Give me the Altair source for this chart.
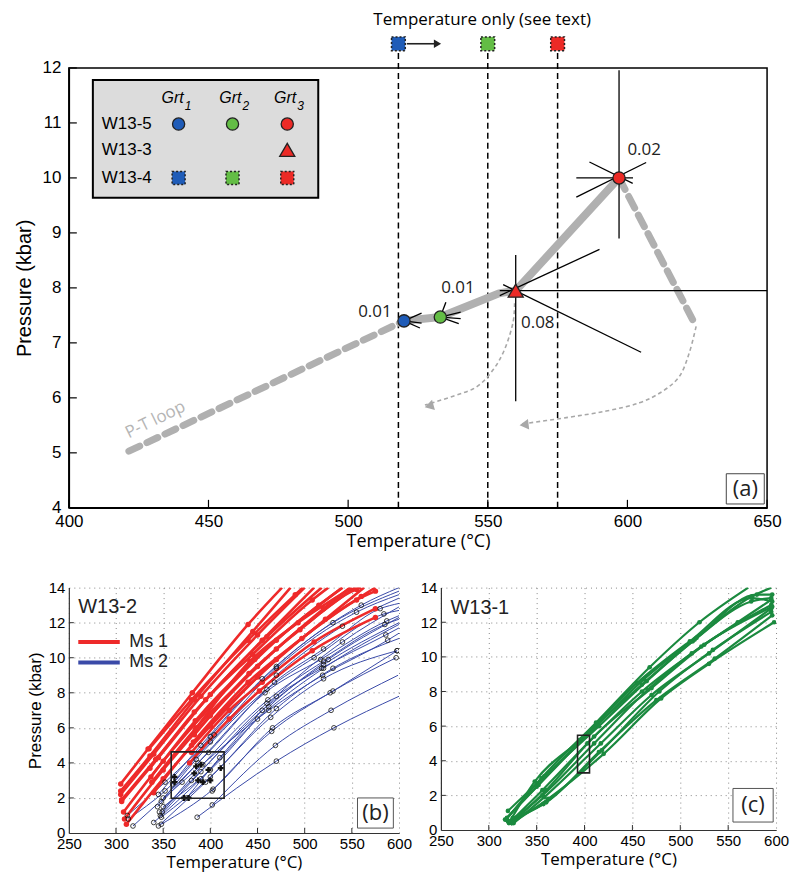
import altair as alt
import pandas as pd

FONT = "Liberation Sans"
FONT2 = "Open Sans"

# ======================= Panel (a) data =======================
a_x_ticks = [400, 450, 500, 550, 600, 650]
a_y_ticks = [4, 5, 6, 7, 8, 9, 10, 11, 12]

pt_T = [520, 533, 560, 597]
pt_P = [7.40, 7.47, 7.95, 10.0]
pt_shape = ["circle", "circle", "triangle-up", "circle"]
pt_color = ["#1f5cb8", "#63bd45", "#ec2a26", "#ec2a26"]
pt_size = [150, 150, 230, 150]

# error "star" segments around the points
err_T1 = [560, 554.3, 554.3, 555.5, 597, 581.7, 581.7, 586.4, 520, 520, 520, 533, 533, 533, 533]
err_P1 = [8.6, 7.95, 7.86, 8.06, 11.96, 10.0, 9.65, 10.29, 7.40, 7.40, 7.40, 7.47, 7.47, 7.47, 7.47]
err_T2 = [560, 650, 590, 604.9, 597, 602, 606.7, 601.9, 526.3, 526.3, 525.7, 535, 540.3, 540.3, 539.6]
err_P2 = [5.94, 7.95, 8.7, 6.83, 8.9, 10.0, 10.28, 9.9, 7.54, 7.36, 7.27, 7.74, 7.56, 7.44, 7.35]

lbl_T = [515.6, 539.3, 567.9, 606.0]
lbl_P = [7.57, 7.99, 7.37, 10.51]
lbl_txt = ["0.01", "0.01", "0.08", "0.02"]

loop_dash1_T = [421.5, 520]
loop_dash1_P = [5.03, 7.4]
loop_solid_T = [520, 533, 554, 560, 597]
loop_solid_P = [7.40, 7.47, 7.90, 7.95, 10.0]
loop_dash2_T = [597, 624.6]
loop_dash2_P = [10.0, 7.3]

arr1_T = [559.6, 559.0, 556.0, 551.9, 546.0, 537.6, 527.5]
arr1_P = [7.72, 7.36, 6.88, 6.51, 6.20, 6.03, 5.87]
arr2_T = [624.6, 622.1, 618.6, 612.6, 604.3, 592.4, 578.1, 561.4]
arr2_P = [7.30, 6.81, 6.39, 6.12, 5.91, 5.76, 5.64, 5.52]
head_T = [529.0, 563.0]
head_P = [5.85, 5.51]
head_angle = [344, 353]

top_T = [518, 550, 575]
top_P = [12.44, 12.44, 12.44]
top_color = ["#1f5cb8", "#63bd45", "#ec2a26"]

# legend box contents
leg_box = dict(T1=[408.6], T2=[489.3], P1=[11.78], P2=[9.64])
leg_row_txt = ["W13-5", "W13-3", "W13-4"]
leg_row_P = [10.98, 10.51, 10.0]
leg_col_T = [439.3, 458.6, 478.2]
leg_hdr_T = [441.1, 461.8, 481.4]
leg_hdr_sub = ["1", "2", "3"]

# ======================= Panel (b) data =======================
bc_x_ticks = [250, 300, 350, 400, 450, 500, 550, 600]
bc_y_ticks = [0, 2, 4, 6, 8, 10, 12, 14]

ms1_curves = [
    [(305, 2.8), (334, 4.8), (381, 8.0), (440, 11.9), (476, 14.0)],
    [(305, 2.4), (336, 4.4), (383, 7.6), (445, 11.5), (485, 14.0)],
    [(305, 2.2), (340, 4.5), (390, 7.8), (450, 11.3), (500, 14.0)],
    [(306, 1.9), (342, 4.2), (395, 7.6), (455, 11.0), (510, 14.0)],
    [(306, 1.8), (345, 4.3), (400, 7.9), (460, 11.2), (518, 14.0)],
    [(308, 1.2), (350, 4.1), (400, 7.2), (470, 11.0), (540, 14.0)],
    [(309, 0.8), (350, 3.6), (400, 6.7), (470, 10.5), (553, 14.0)],
    [(311, 0.5), (350, 3.1), (400, 6.1), (470, 9.9), (560, 13.5), (575, 14.0)],
    [(335, 4.8), (380, 7.6), (440, 11.0), (490, 13.6), (498, 14.0)],
    [(336, 3.7), (383, 6.9), (445, 10.2), (508, 13.3), (525, 14.0)],
    [(337, 3.2), (384, 6.4), (447, 9.9), (515, 13.0), (540, 14.0)],
    [(338, 2.9), (385, 6.0), (450, 9.5), (520, 12.8), (548, 14.0)],
    [(340, 2.3), (380, 5.0), (450, 8.9), (522, 12.2), (563, 14.0)],
    [(378, 4.0), (420, 6.5), (452, 8.1), (508, 10.4), (575, 12.3)],
    [(380, 4.6), (420, 7.0), (455, 8.6), (510, 10.9), (575, 12.8)],
    [(382, 5.2), (440, 8.6), (497, 11.1), (555, 13.3), (575, 13.8)],
    [(383, 5.6), (441, 9.1), (495, 11.6), (555, 13.9), (560, 14.0)],
    [(384, 5.9), (442, 9.8), (493, 12.0), (550, 14.0)],
]

ms2_curves = [
    [(386, 0.9), (470, 4.1), (531, 6.0), (600, 7.8)],
    [(402, 1.6), (469, 5.0), (528, 7.0), (599, 9.0)],
    [(402, 2.4), (465, 5.8), (527, 8.0), (597, 10.0)],
    [(348, 0.5), (403, 2.5), (466, 6.0), (530, 8.1), (598, 10.4)],
    [(345, 0.4), (395, 2.9), (464, 6.6), (520, 8.8), (598, 10.4)],
    [(318, 0.4), (370, 2.9), (462, 7.0), (519, 9.0), (588, 11.0), (600, 11.4)],
    [(347, 1.0), (390, 3.5), (460, 7.4), (518, 9.4), (586, 11.3), (600, 11.7)],
    [(349, 1.2), (392, 3.9), (461, 7.6), (520, 9.8), (585, 11.9), (600, 12.2)],
    [(344, 1.5), (387, 4.0), (458, 8.0), (517, 9.9), (587, 12.1), (600, 12.4)],
    [(348, 1.8), (385, 4.2), (460, 8.2), (510, 10.0), (584, 12.5), (600, 12.7)],
    [(350, 2.0), (398, 4.6), (468, 8.6), (520, 10.5), (580, 12.8), (600, 13.1)],
    [(313, 0.8), (352, 2.4), (400, 5.2), (470, 9.0), (540, 11.8), (600, 13.4)],
    [(312, 1.0), (352, 2.9), (404, 5.6), (470, 9.4), (555, 12.6), (600, 13.6)],
    [(345, 2.2), (390, 5.0), (455, 8.8), (530, 12.0), (600, 13.8)],
    [(360, 2.8), (400, 5.5), (470, 9.5), (560, 13.0), (600, 14.0)],
    [(375, 2.0), (410, 4.3), (470, 7.8), (540, 10.9), (600, 12.9)],
    [(346, 1.2), (380, 3.0), (455, 7.0), (520, 9.6), (600, 12.0)],
    [(350, 1.5), (400, 3.6), (462, 7.2), (525, 9.9), (600, 12.3)],
    [(340, 0.6), (390, 3.1), (450, 6.5), (520, 9.4), (600, 11.9)],
    [(348, 0.9), (400, 3.2), (470, 7.1), (530, 9.4), (600, 11.1)],
]

plus_T = [362, 362, 372, 377, 383, 385, 387, 390, 392, 400, 411, 398]
plus_P = [2.9, 3.2, 2.0, 2.0, 3.4, 3.8, 3.0, 3.9, 2.9, 3.0, 3.7, 3.6]

b_box = dict(T1=[358.5], T2=[414.6], P1=[4.63], P2=[1.98])

# ======================= Panel (c) data =======================
w131_curves = [
    [(318, 0.6), (355, 3.0), (412, 6.2), (468, 9.4), (520, 12.0), (571, 14.0)],
    [(320, 1.1), (358, 3.1), (415, 6.0), (465, 8.6), (515, 11.0), (575, 13.5), (595, 14.0)],
    [(317, 0.6), (350, 2.5), (400, 5.4), (460, 8.4), (513, 10.9), (574, 13.2), (595, 13.4)],
    [(321, 0.4), (356, 2.3), (403, 5.0), (460, 8.0), (512, 10.2), (560, 12.0), (595, 13.3)],
    [(324, 0.4), (360, 2.3), (410, 5.4), (470, 8.2), (525, 10.7), (595, 13.0)],
    [(326, 0.4), (358, 1.9), (417, 5.0), (470, 7.8), (530, 10.2), (595, 12.8)],
    [(320, 0.5), (357, 1.5), (418, 4.6), (478, 8.0), (534, 10.4), (595, 12.6)],
    [(324, 0.4), (362, 1.8), (420, 4.4), (480, 7.6), (530, 9.6), (598, 12.0)],
    [(325, 0.7), (360, 1.6), (415, 4.5), (475, 7.5), (536, 9.9), (596, 12.4)],
    [(322, 0.5), (348, 2.8), (395, 5.2), (455, 8.5), (510, 10.9), (575, 13.4), (596, 13.2)],
    [(319, 0.7), (352, 2.6), (405, 5.6), (462, 8.7), (517, 11.1), (580, 13.6), (596, 13.6)],
    [(323, 0.5), (356, 2.0), (410, 5.0), (466, 8.1), (522, 10.6), (596, 12.9)],
]

c_box = dict(T1=[392.7], T2=[405.2], P1=[5.47], P2=[3.3])

# ======================= helpers =======================
A_W, A_H = 700, 441
B_W, B_H = 331, 246
C_W, C_H = 336, 243

RED = "#ee2a2a"
BLUE = "#3a4aa8"
GREEN = "#1b8a3f"
GREY = "#b0b0b0"


def curves_df(curves):
    rows = []
    for i, c in enumerate(curves):
        for j, (t, p) in enumerate(c):
            rows.append({"curve": i, "idx": j, "T": t, "P": p})
    return pd.DataFrame(rows)


xa = alt.Scale(domain=[400, 650], nice=False, zero=False)
ya = alt.Scale(domain=[4, 12], nice=False, zero=False)


def XA(f="T"):
    return alt.X(f"{f}:Q", scale=xa)


def YA(f="P"):
    return alt.Y(f"{f}:Q", scale=ya)


# ---------- panel a layers ----------
pts = pd.DataFrame({"T": pt_T, "P": pt_P, "shape": pt_shape, "color": pt_color, "size": pt_size})

base_a = alt.Chart(pts).mark_point(opacity=0).encode(
    x=alt.X("T:Q", scale=xa, axis=alt.Axis(values=a_x_ticks, format="d", title="Temperature (°C)", titleFont=FONT2,
                                           titleFontSize=18, titleFontWeight="normal", labelFontSize=17,
                                           labelFont=FONT, tickSize=0, labelPadding=6, titlePadding=3,
                                           labelFlush=False, labelOverlap=False,
                                           domainColor="black", domainWidth=1.5, grid=False)),
    y=alt.Y("P:Q", scale=ya, axis=alt.Axis(values=a_y_ticks, format="d", title="Pressure (kbar)", titleFont=FONT,
                                           titleFontSize=20, titleFontWeight="normal", labelFontSize=17,
                                           labelFont=FONT, tickSize=0, labelPadding=8, titlePadding=8,
                                           labelFlush=False, labelOverlap=False,
                                           domainColor="black", domainWidth=1.5, grid=False)),
)

ticks_ax = alt.Chart(pd.DataFrame({"T": a_x_ticks})).mark_rule(color="black", strokeWidth=1.2).encode(
    x=XA(), y=alt.value(A_H), y2=alt.value(A_H - 8))
ticks_ay = alt.Chart(pd.DataFrame({"P": a_y_ticks})).mark_rule(color="black", strokeWidth=1.2).encode(
    y=YA(), x=alt.value(0), x2=alt.value(8))

vd = pd.DataFrame({"T": top_T, "P": [4] * 3, "P2": top_P})
vlines = alt.Chart(vd).mark_rule(color="black", strokeWidth=1.5, strokeDash=[6, 4]).encode(
    x=XA(), y=YA(), y2="P2:Q")

loop1 = alt.Chart(pd.DataFrame({"T": loop_dash1_T, "P": loop_dash1_P, "i": range(2)})).mark_line(
    color=GREY, strokeWidth=7, strokeDash=[12, 8], strokeCap="round").encode(
    x=XA(), y=YA(), order="i:Q")
loop2 = alt.Chart(pd.DataFrame({"T": loop_solid_T, "P": loop_solid_P, "i": range(5)})).mark_line(
    color=GREY, strokeWidth=8, strokeJoin="round").encode(x=XA(), y=YA(), order="i:Q")
loop3 = alt.Chart(pd.DataFrame({"T": loop_dash2_T, "P": loop_dash2_P, "i": range(2)})).mark_line(
    color=GREY, strokeWidth=7, strokeDash=[13, 8], strokeCap="round").encode(x=XA(), y=YA(), order="i:Q")

arr1 = alt.Chart(pd.DataFrame({"T": arr1_T, "P": arr1_P, "i": range(len(arr1_T))})).mark_line(
    color="#a8a8a8", strokeWidth=1.6, strokeDash=[4, 3], interpolate="cardinal").encode(
    x=XA(), y=YA(), order="i:Q")
arr2 = alt.Chart(pd.DataFrame({"T": arr2_T, "P": arr2_P, "i": range(len(arr2_T))})).mark_line(
    color="#a8a8a8", strokeWidth=1.6, strokeDash=[4, 3], interpolate="cardinal").encode(
    x=XA(), y=YA(), order="i:Q")
heads = alt.Chart(pd.DataFrame({"T": head_T, "P": head_P, "a": head_angle})).mark_point(
    shape="triangle-left", filled=True, color="#a8a8a8", size=110, opacity=1).encode(
    x=XA(), y=YA(), angle=alt.Angle("a:Q", scale=None))

errs = alt.Chart(pd.DataFrame({"T": err_T1, "P": err_P1, "T2": err_T2, "P2": err_P2})).mark_rule(
    color="black", strokeWidth=1.3).encode(x=XA(), y=YA(), x2="T2:Q", y2="P2:Q")

pmarks = alt.Chart(pts).mark_point(filled=True, stroke="#222", strokeWidth=1.3, opacity=1).encode(
    x=XA(), y=YA(), shape=alt.Shape("shape:N", scale=None), fill=alt.Fill("color:N", scale=None),
    size=alt.Size("size:Q", scale=None))

labels_r = alt.Chart(pd.DataFrame({"T": lbl_T[:1], "P": lbl_P[:1], "t": lbl_txt[:1]})).mark_text(
    font=FONT2, fontSize=17, color="#222", baseline="middle", align="right").encode(x=XA(), y=YA(), text="t:N")
labels_c = alt.Chart(pd.DataFrame({"T": lbl_T[1:], "P": lbl_P[1:], "t": lbl_txt[1:]})).mark_text(
    font=FONT2, fontSize=17, color="#222", baseline="middle", align="center").encode(x=XA(), y=YA(), text="t:N")

ptloop_txt = alt.Chart(pd.DataFrame({"T": [431.0], "P": [5.6], "t": ["P-T loop"]})).mark_text(
    font=FONT2, fontSize=17, color="#b5b5b5", angle=334).encode(x=XA(), y=YA(), text="t:N")

top_sq = alt.Chart(pd.DataFrame({"T": top_T, "P": top_P, "c": top_color})).mark_square(
    size=190, stroke="#222", strokeWidth=1.5, strokeDash=[2, 2], opacity=1).encode(
    x=XA(), y=YA(), fill=alt.Fill("c:N", scale=None))
top_arrow = alt.Chart(pd.DataFrame({"T": [521.0], "T2": [531.0], "P": [12.44]})).mark_rule(
    color="#222", strokeWidth=1.6).encode(x=XA(), x2="T2:Q", y=YA())
top_head = alt.Chart(pd.DataFrame({"T": [532.0], "P": [12.44]})).mark_point(
    shape="triangle-right", filled=True, color="#222", size=70, opacity=1).encode(x=XA(), y=YA())
top_title = alt.Chart(pd.DataFrame({"T": [548.0], "P": [12.88], "t": ["Temperature only (see text)"]})).mark_text(
    font=FONT2, fontSize=17, color="black").encode(x=XA(), y=YA(), text="t:N")

legbox = alt.Chart(pd.DataFrame(leg_box)).mark_rect(fill="#dcdcdc", stroke="black", strokeWidth=2).encode(
    x=XA("T1"), x2="T2:Q", y=YA("P1"), y2="P2:Q")
leg_rows = alt.Chart(pd.DataFrame({"T": [411.8] * 3, "P": leg_row_P, "t": leg_row_txt})).mark_text(
    font=FONT, fontSize=17, align="left", baseline="middle", color="black").encode(x=XA(), y=YA(), text="t:N")
leg_hdr = alt.Chart(pd.DataFrame({"T": leg_hdr_T, "P": [11.45] * 3, "t": ["Grt"] * 3})).mark_text(
    font=FONT, fontSize=16, fontStyle="italic", align="right", baseline="middle", color="black").encode(
    x=XA(), y=YA(), text="t:N")
leg_sub = alt.Chart(pd.DataFrame({"T": leg_hdr_T, "P": [11.30] * 3, "t": leg_hdr_sub})).mark_text(
    font=FONT, fontSize=12, fontStyle="italic", align="left", baseline="middle", dx=1, color="black").encode(
    x=XA(), y=YA(), text="t:N")
leg_sym = pd.DataFrame({
    "T": [leg_col_T[0], leg_col_T[1], leg_col_T[2], leg_col_T[2]],
    "P": [leg_row_P[0]] * 3 + [leg_row_P[1]],
    "shape": ["circle", "circle", "circle", "triangle-up"],
    "color": ["#1f5cb8", "#63bd45", "#ec2a26", "#ec2a26"],
    "size": [150, 150, 150, 230],
})
leg_syms = alt.Chart(leg_sym).mark_point(filled=True, stroke="#222", strokeWidth=1.3, opacity=1).encode(
    x=XA(), y=YA(), shape=alt.Shape("shape:N", scale=None), fill=alt.Fill("color:N", scale=None),
    size=alt.Size("size:Q", scale=None))
leg_sq = alt.Chart(pd.DataFrame({"T": leg_col_T, "P": [leg_row_P[2]] * 3, "c": top_color})).mark_square(
    size=170, stroke="#222", strokeWidth=1.5, strokeDash=[2, 2], opacity=1).encode(
    x=XA(), y=YA(), fill=alt.Fill("c:N", scale=None))

abox = alt.Chart(pd.DataFrame({"T1": [635.4], "T2": [649.0], "P1": [4.62], "P2": [4.07]})).mark_rect(
    fill="white", stroke="#444", strokeWidth=1).encode(x=XA("T1"), x2="T2:Q", y=YA("P1"), y2="P2:Q")
atxt = alt.Chart(pd.DataFrame({"T": [642.2], "P": [4.35], "t": ["(a)"]})).mark_text(
    font=FONT2, fontSize=22, color="#222", baseline="middle").encode(x=XA(), y=YA(), text="t:N")

panel_a = alt.layer(
    base_a, ticks_ax, ticks_ay, vlines, loop1, loop2, loop3, arr1, arr2, heads, errs, pmarks,
    labels_r, labels_c, ptloop_txt, top_arrow, top_head, top_sq, top_title,
    legbox, leg_rows, leg_hdr, leg_sub, leg_syms, leg_sq, abox, atxt,
).properties(width=A_W, height=A_H, view=alt.ViewBackground(stroke="black", strokeWidth=1.5))


# ---------- panels b and c ----------
def make_axes(y_title):
    ykw = dict(values=bc_y_ticks, format="d", titleFont=FONT, titleFontSize=17, titleFontWeight="normal",
               labelFontSize=15, labelFont=FONT, tickSize=0, labelPadding=4, titlePadding=4,
               labelFlush=False, labelOverlap=False, labelSeparation=0,
               domainColor="#333", domainWidth=1.2, grid=True, gridDash=[1, 4], gridColor="#888", gridWidth=1,
               title=y_title)
    xkw = dict(values=bc_x_ticks, format="d", title="Temperature (°C)", titleFont=FONT2, titleFontSize=17,
               titleFontWeight="normal", labelFontSize=15, labelFont=FONT, tickSize=0,
               labelPadding=4, titlePadding=3, labelFlush=False, labelOverlap=False,
               domainColor="#333", domainWidth=1.2,
               grid=True, gridDash=[1, 4], gridColor="#888", gridWidth=1)
    return alt.Axis(**xkw), alt.Axis(**ykw)


class Sc:
    def __init__(self, y_title):
        self.xs = alt.Scale(domain=[250, 600], nice=False, zero=False)
        self.ys = alt.Scale(domain=[0, 14], nice=False, zero=False)
        self.xaxis, self.yaxis = make_axes(y_title)

    def X(self, f="T"):
        return alt.X(f"{f}:Q", scale=self.xs, axis=self.xaxis)

    def Y(self, f="P"):
        return alt.Y(f"{f}:Q", scale=self.ys, axis=self.yaxis)


def panel(sc, W, H, makers):
    tx = alt.Chart(pd.DataFrame({"T": bc_x_ticks[1:-1]})).mark_rule(color="#333", strokeWidth=1).encode(
        x=sc.X(), y=alt.value(H), y2=alt.value(H - 5))
    ty = alt.Chart(pd.DataFrame({"P": bc_y_ticks[1:-1]})).mark_rule(color="#333", strokeWidth=1).encode(
        y=sc.Y(), x=alt.value(0), x2=alt.value(5))
    layers = [tx, ty] + [mk(sc) for mk in makers]
    return alt.layer(*layers).properties(width=W, height=H)


ms1_df = curves_df(ms1_curves)
ms2_df = curves_df(ms2_curves)
g_df = curves_df(w131_curves)

ms1_pts = ms1_df[(ms1_df["P"] < 14) & (ms1_df["T"] < 600)]
ms2_pts = ms2_df[ms2_df["T"] < 599]
g_pts = g_df[g_df["P"] < 14]


def lines(df, color, width):
    return lambda sc: alt.Chart(df).mark_line(color=color, strokeWidth=width, interpolate="monotone",
                                              clip=True).encode(
        x=sc.X(), y=sc.Y(), detail="curve:N", order="idx:Q")


def dots(df, color, size):
    return lambda sc: alt.Chart(df).mark_circle(color=color, size=size, opacity=1, clip=True).encode(
        x=sc.X(), y=sc.Y())


def open_dots(df):
    return lambda sc: alt.Chart(df).mark_point(color="#111", size=22, strokeWidth=0.8, opacity=1,
                                               clip=True).encode(x=sc.X(), y=sc.Y())


def plus_marks():
    return lambda sc: alt.Chart(pd.DataFrame({"T": plus_T, "P": plus_P})).mark_point(
        shape="cross", filled=True, color="#111", size=35, opacity=1).encode(x=sc.X(), y=sc.Y())


def box(b):
    return lambda sc: alt.Chart(pd.DataFrame(b)).mark_rect(fillOpacity=0, stroke="#222", strokeWidth=1.6).encode(
        x=sc.X("T1"), x2="T2:Q", y=sc.Y("P1"), y2="P2:Q")


def ltext(T, P, t, size, align="left", font=FONT):
    return lambda sc: alt.Chart(pd.DataFrame({"T": [T], "P": [P], "t": [t]})).mark_text(
        font=font, fontSize=size, align=align, baseline="middle", color="#222").encode(
        x=sc.X(), y=sc.Y(), text="t:N")


def lbox(T1, T2, P1, P2):
    return lambda sc: alt.Chart(pd.DataFrame({"T1": [T1], "T2": [T2], "P1": [P1], "P2": [P2]})).mark_rect(
        fill="white", stroke="#555", strokeWidth=1).encode(x=sc.X("T1"), x2="T2:Q", y=sc.Y("P1"), y2="P2:Q")


def legline(P, color):
    return lambda sc: alt.Chart(pd.DataFrame({"T": [260], "T2": [304], "P": [P]})).mark_rule(
        color=color, strokeWidth=4).encode(x=sc.X(), x2="T2:Q", y=sc.Y())


panel_b = panel(
    Sc("Pressure (kbar)"), B_W, B_H,
    [lines(ms2_df, BLUE, 1.0), lines(ms1_df, RED, 2.6), dots(ms1_pts, RED, 30), open_dots(ms2_pts),
     plus_marks(), box(b_box), ltext(260, 12.9, "W13-2", 20), legline(10.9, RED), legline(9.73, BLUE),
     ltext(314, 10.9, "Ms 1", 18), ltext(314, 9.73, "Ms 2", 18),
     lbox(556, 594, 2.0, 0.28), ltext(575, 1.14, "(b)", 22, "center", FONT2)],
)

panel_c = panel(
    Sc(""), C_W, C_H,
    [lines(g_df, GREEN, 2.2), dots(g_pts, GREEN, 22),
     box(c_box), ltext(260, 12.85, "W13-1", 20), lbox(555, 597, 2.4, 0.46),
     ltext(576, 1.43, "(c)", 22, "center", FONT2)],
)

bottom = alt.hconcat(panel_b, panel_c, spacing=8)

chart = alt.vconcat(panel_a, bottom, spacing=29).properties(
    padding={"left": 5, "top": 0, "right": 5, "bottom": 0}
).configure(font=FONT, background="white").configure_axis(
    labelColor="black", titleColor="black").configure_view(stroke=None)

chart.save("out.html", embed_options={"renderer": "svg", "actions": False})
